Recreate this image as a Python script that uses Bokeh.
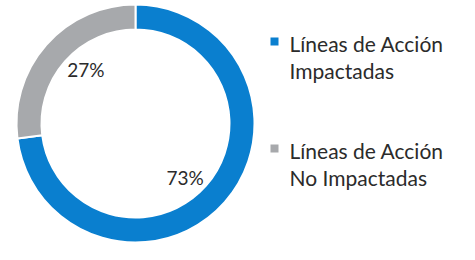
import math
from bokeh.plotting import figure
from bokeh.models import Range1d, ColumnDataSource
from bokeh.core.properties import value
from bokeh.embed import file_html
from bokeh.resources import INLINE

categories = ["Líneas de Acción Impactadas", "Líneas de Acción No Impactadas"]
legend_lines = [["Líneas de Acción", "Impactadas"], ["Líneas de Acción", "No Impactadas"]]
values = [73, 27]
colors = ["#0a7fcf", "#a7a9ac"]

W, H = 459, 244
p = figure(width=W, height=H, output_backend="svg", toolbar_location=None,
           x_range=Range1d(0, W), y_range=Range1d(0, H), min_border=0)
p.axis.visible = False
p.grid.visible = False
p.outline_line_color = None
p.background_fill_color = "white"

cx, cy = 135, 121
r_out, r_in = 119, 94
total = sum(values)
starts, ends, mids = [], [], []
a = math.pi / 2
for v in values:
    sweep = 2 * math.pi * v / total
    starts.append(a)
    ends.append(a - sweep)
    mids.append(a - sweep / 2)
    a -= sweep

src = ColumnDataSource(dict(x=[cx] * len(values), y=[cy] * len(values),
                            start=starts, end=ends, color=colors))
p.annular_wedge(x="x", y="y", inner_radius=r_in, outer_radius=r_out,
                start_angle="start", end_angle="end", direction="clock",
                fill_color="color", line_color="white", line_width=2, source=src)

label_r = 73
lx = [cx + label_r * math.cos(m - 0.1) for m in mids]
ly = [cy + label_r * math.sin(m - 0.1) for m in mids]
p.text(x=lx, y=ly, text=[f"{v}%" for v in values], text_font=value("Lato"),
       text_font_size="19px", text_color="#2b2b2b", text_align="center",
       text_baseline="middle")

# legend
leg_x = 274
leg_y = [201, 94]
line_gap = 27
p.rect(x=[leg_x] * 2, y=[y + 2 for y in leg_y], width=8, height=8,
       fill_color=colors, line_color=None)
tx, ty, tt = [], [], []
for lines, y0 in zip(legend_lines, leg_y):
    for i, ln in enumerate(lines):
        tx.append(leg_x + 15)
        ty.append(y0 - i * line_gap)
        tt.append(ln)
p.text(x=tx, y=ty, text=tt, text_font=value("Lato"), text_font_size="21px",
       text_color="#2b2b2b", text_align="left", text_baseline="middle")

open("out.html", "w").write(file_html(p, INLINE))
